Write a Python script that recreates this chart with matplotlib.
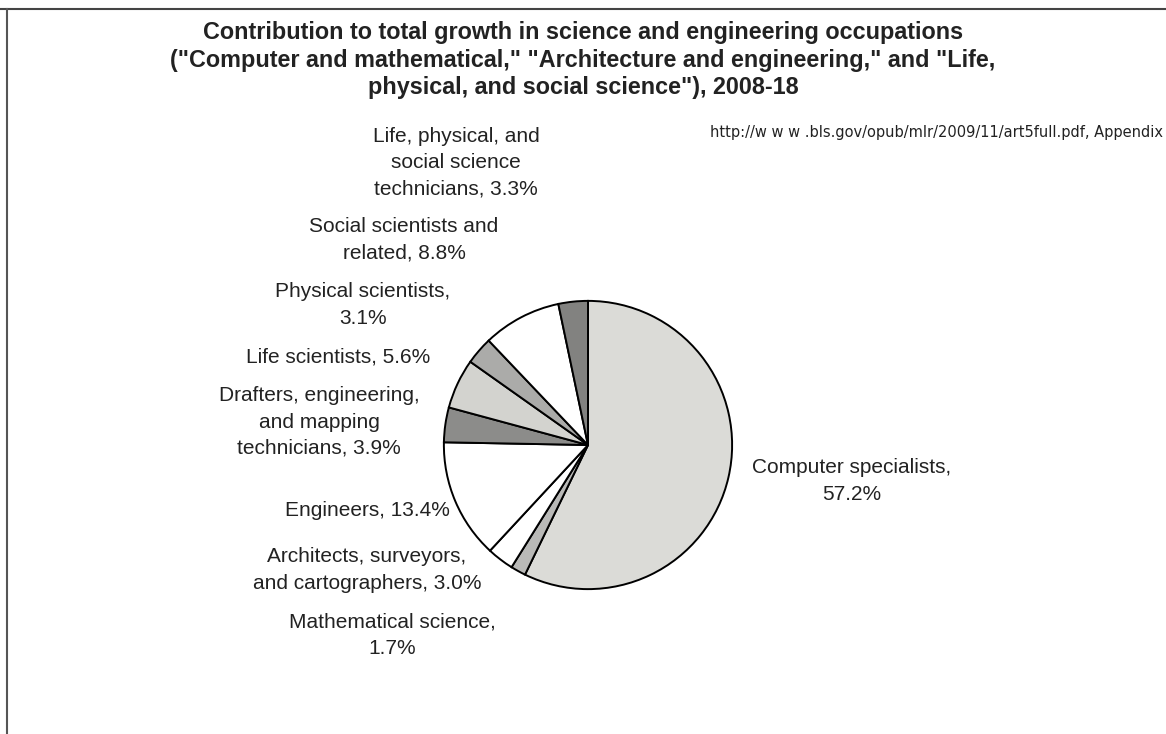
import matplotlib.pyplot as plt

plt.rcParams['font.family'] = ['Liberation Sans', 'DejaVu Sans']

W, H = 1166, 734

# slices, clockwise from 12 o'clock
labels = [
    "Computer specialists,\n57.2%",
    "Mathematical science,\n1.7%",
    "Architects, surveyors,\nand cartographers, 3.0%",
    "Engineers, 13.4%",
    "Drafters, engineering,\nand mapping\ntechnicians, 3.9%",
    "Life scientists, 5.6%",
    "Physical scientists,\n3.1%",
    "Social scientists and\nrelated, 8.8%",
    "Life, physical, and\nsocial science\ntechnicians, 3.3%",
]
shares = [57.2, 1.7, 3.0, 13.4, 3.9, 5.6, 3.1, 8.8, 3.3]
colors = ["#dbdbd7", "#b9b9b7", "#ffffff", "#ffffff", "#8c8c8a",
          "#d3d3cf", "#ababa9", "#ffffff", "#828280"]

# where each label sits (pixel centres in the picture)
label_xy = [(852, 481), (392, 635), (367, 570), (367, 510), (319, 422),
            (338, 357), (363, 305), (404, 240), (456, 163)]

fig = plt.figure(figsize=(W / 100, H / 100), dpi=100)

# frame lines from the scanned page
fig.add_artist(plt.Line2D([0, 1], [1 - 9 / H, 1 - 9 / H], color="#444444", lw=1.5))
fig.add_artist(plt.Line2D([7 / W, 7 / W], [0, 1 - 9 / H], color="#555555", lw=1.5))

# pie axes
cx, cy, r = 588, 445, 147
ax = fig.add_axes([(cx - r) / W, (H - cy - r) / H, 2 * r / W, 2 * r / H])
ax.pie(shares, colors=colors, startangle=90, counterclock=False,
       wedgeprops=dict(edgecolor="black", linewidth=1.4))
ax.set_xlim(-1.02, 1.02)
ax.set_ylim(-1.02, 1.02)
ax.set_aspect("equal")
ax.axis("off")

for lab, (x, y) in zip(labels, label_xy):
    fig.text(x / W, 1 - y / H, lab, ha="center", va="center", fontsize=15,
             color="#222222", linespacing=1.47)

fig.text(0.5, 1 - 60 / H,
         "Contribution to total growth in science and engineering occupations\n"
         "(\"Computer and mathematical,\" \"Architecture and engineering,\" and \"Life,\n"
         "physical, and social science\"), 2008-18",
         ha="center", va="center", fontsize=16.8, fontweight="bold",
         color="#222222", linespacing=1.27)

fig.text(1163 / W, 1 - 133 / H,
         "http://w w w .bls.gov/opub/mlr/2009/11/art5full.pdf, Appendix",
         ha="right", va="center", fontsize=10.5, color="#222222",
         family="DejaVu Sans")

fig.savefig("out.png", dpi=100)
